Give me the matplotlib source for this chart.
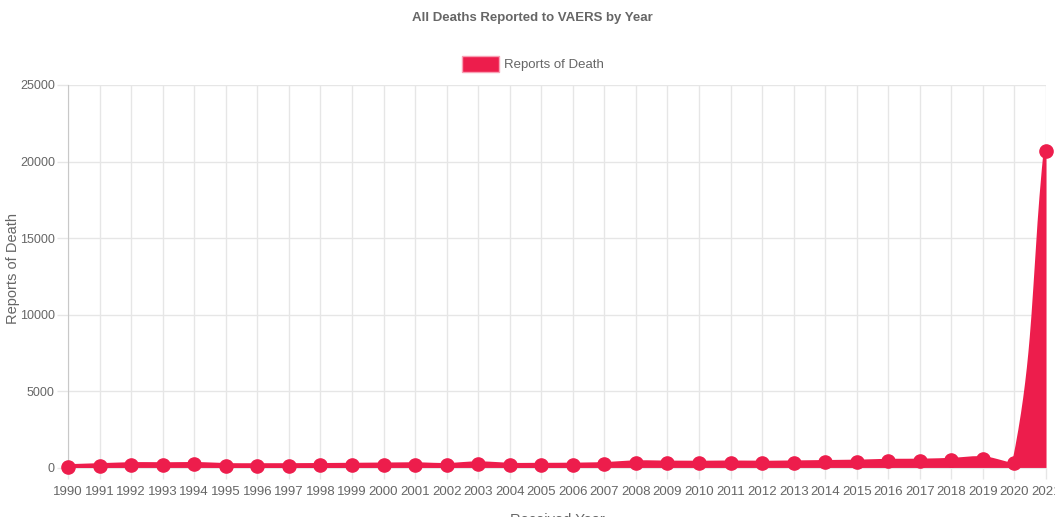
import numpy as np
import matplotlib
matplotlib.use("Agg")
import matplotlib.pyplot as plt
from matplotlib.patches import Patch

plt.rcParams['font.family'] = ['Liberation Sans', 'DejaVu Sans']

# deaths reported per year
years = list(range(1990, 2022))
deaths = [90, 160, 225, 215, 235, 160, 155, 155, 165, 180, 195, 215, 170, 275, 180,
          180, 190, 230, 340, 325, 315, 330, 315, 335, 360, 385, 440, 450, 505, 605,
          300, 20700]
y_ticks = [0, 5000, 10000, 15000, 20000, 25000]

red = '#ED1D4C'
grey = '#666666'
grid = '#E6E6E6'

fig = plt.figure(figsize=(10.55, 5.17), dpi=100)
ax = fig.add_axes([0.0645, 0.0948, 0.927, 0.7408])
ax.set_xlim(1990, 2021)
ax.set_ylim(0, 25000)


# chart.js style spline (tension 0.4), control points worked out in pixel space
def spline(xs, ys, tension=0.4):
    pts = ax.transData.transform(np.column_stack([xs, ys]))
    n = len(pts)
    cps = []
    for i in range(n):
        prev = pts[max(i - 1, 0)]
        cur = pts[i]
        nxt = pts[min(i + 1, n - 1)]
        d01 = np.hypot(*(cur - prev))
        d12 = np.hypot(*(nxt - cur))
        tot = d01 + d12
        s01 = d01 / tot if tot else 0
        s12 = d12 / tot if tot else 0
        fa = tension * s01
        fb = tension * s12
        cps.append((cur - fa * (nxt - prev), cur + fb * (nxt - prev)))
    lo = ax.transData.transform((1990, 0))
    hi = ax.transData.transform((2021, 25000))
    out = []
    t = np.linspace(0, 1, 40)[:, None]
    for i in range(n - 1):
        p0 = pts[i]
        p3 = pts[i + 1]
        p1 = np.clip(cps[i][1], lo, hi)
        p2 = np.clip(cps[i + 1][0], lo, hi)
        seg = (1 - t) ** 3 * p0 + 3 * (1 - t) ** 2 * t * p1 + 3 * (1 - t) * t ** 2 * p2 + t ** 3 * p3
        out.append(seg if i == 0 else seg[1:])
    out = np.vstack(out)
    return ax.transData.inverted().transform(out)


curve = spline(years, deaths)
ax.fill_between(curve[:, 0], curve[:, 1], 0, color=red, lw=0, zorder=2)
ax.plot(curve[:, 0], curve[:, 1], color=red, lw=3.5, zorder=3, solid_capstyle='round')
ax.plot(years, deaths, 'o', color=red, ms=9.5, zorder=4, clip_on=False)

ax.set_xticks(years)
ax.set_xticklabels([str(y) for y in years])
ax.set_yticks(y_ticks)
ax.grid(True, color=grid, lw=1, zorder=0)
ax.tick_params(colors=grid, labelcolor=grey, labelsize=9.5, length=8, width=1)
ax.tick_params(axis='y', pad=1.5, labelsize=9)
ax.tick_params(axis='x', pad=5)
for s in ['top', 'right']:
    ax.spines[s].set_visible(False)
ax.spines['left'].set_color('#C8C8C8')
ax.spines['bottom'].set_color(grid)
ax.set_axisbelow(True)

ax.set_ylabel('Reports of Death', color=grey, fontsize=10.5)
ax.yaxis.set_label_coords(-0.049, 0.52)
ax.set_xlabel('Received Year', color=grey, fontsize=10.5)
ax.xaxis.set_label_coords(0.5, -0.118)

fig.text(0.5045, 0.966, 'All Deaths Reported to VAERS by Year', ha='center', va='center',
         fontsize=9.5, fontweight='bold', color=grey)
fig.legend(handles=[Patch(facecolor=red, edgecolor='#F8A0B4', lw=1)], labels=['Reports of Death'],
           loc='center', bbox_to_anchor=(0.505, 0.877), frameon=False, fontsize=9.5,
           handlelength=2.8, handleheight=1.5, handletextpad=0.35, labelcolor=grey)

plt.savefig('out.png', dpi=100)
